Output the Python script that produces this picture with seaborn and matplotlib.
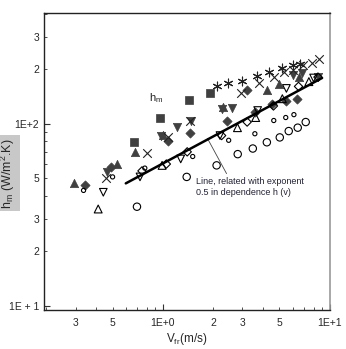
import numpy as np
import pandas as pd
import matplotlib
matplotlib.use("Agg")
import matplotlib.pyplot as plt
import seaborn as sns
from matplotlib.ticker import LogLocator, FuncFormatter

# data (v in m/s, h in W/m2K)
sq_v = [0.67, 0.96, 1.43, 1.91]
sq_h = [79, 108, 134, 148]

star_v = [2.10, 2.45, 2.97, 3.66, 4.31, 5.2, 6.0, 6.6]
star_h = [160, 168, 172, 183, 192, 202, 210, 212]

x_v = [0.456, 0.80, 1.07, 1.45, 2.93, 3.76, 4.62, 5.3, 6.0, 6.9, 7.8, 8.6]
x_h = [50, 69, 84, 103, 148, 168, 181, 191, 198, 210, 216, 225]

tri_v = [0.293, 0.53, 0.68, 1.0, 2.3, 4.2, 5.0, 6.5]
tri_h = [47, 60, 70, 87, 124, 152, 165, 180]

dia_v = [0.34, 0.49, 1.07, 1.45, 2.42, 3.2, 3.56, 4.5, 5.5, 6.4]
dia_h = [46, 58, 80, 89, 104, 152, 116, 128, 133, 137]

tdn_v = [0.46, 0.98, 1.21, 1.47, 2.25, 2.6, 6.0, 6.8, 8.5]
tdn_h = [54, 86, 96, 104, 120, 122, 185, 190, 180]

otd_v = [0.44, 0.73, 1.28, 2.2, 3.7, 5.5, 8.0]
otd_h = [42, 51, 64, 86, 118, 156, 178]

otu_v = [0.41, 0.99, 2.8, 3.6, 5.2, 7.5]
otu_h = [34, 59, 95, 108, 137, 170]

odia_v = [0.75, 1.05, 1.4, 2.25, 3.2, 4.6, 6.5, 8.5]
odia_h = [55, 60, 70, 86, 102, 125, 160, 180]

sc_v = [0.335, 0.50, 0.78, 1.51, 2.48, 3.56, 4.62, 5.45, 6.1]
sc_h = [43, 51, 57, 66, 81, 88, 104, 108, 112]

lc_v = [0.70, 1.39, 2.10, 2.81, 3.46, 4.20, 5.02, 5.68, 6.43, 7.18]
lc_h = [35, 51, 59, 68, 73, 79, 84, 91, 95, 102]

line_v = [0.6, 9.0]
line_h = [47, 178]

sns.set_style("ticks")
plt.rcParams['font.family'] = ['Liberation Sans', 'DejaVu Sans']
plt.rcParams['mathtext.fontset'] = 'custom'
plt.rcParams['mathtext.rm'] = 'Liberation Sans'
plt.rcParams['mathtext.it'] = 'Liberation Sans'

fig = plt.figure(figsize=(3.46, 3.49), dpi=100)
ax = fig.add_axes([0.127, 0.112, 0.826, 0.851])

dark = '#404040'
filled = [
    (sq_v, sq_h, 's', 40),
    (tri_v, tri_h, '^', 36),
    (dia_v, dia_h, 'D', 22),
    (tdn_v, tdn_h, 'v', 36),
]
for v, h, m, s in filled:
    sns.scatterplot(x=v, y=h, marker=m, s=s, color=dark, edgecolor=dark,
                    linewidth=0.5, ax=ax, zorder=3)

for v, h, m, s in [(star_v, star_h, (6, 2, 0), 40), (x_v, x_h, 'x', 38)]:
    sns.scatterplot(x=v, y=h, marker=m, s=s, color='#222222', linewidth=0.8,
                    ax=ax, zorder=3)

hollow = [
    (otd_v, otd_h, 'v', 30),
    (otu_v, otu_h, '^', 32),
    (odia_v, odia_h, 'D', 18),
    (sc_v, sc_h, 'o', 9),
    (lc_v, lc_h, 'o', 28),
]
for v, h, m, s in hollow:
    sns.scatterplot(x=v, y=h, marker=m, s=s, facecolor='none', edgecolor='black',
                    linewidth=0.8, ax=ax, zorder=3)

sns.lineplot(x=line_v, y=line_h, color='black', linewidth=1.8, ax=ax, zorder=4)

ax.set_xscale('log')
ax.set_yscale('log')
ax.set_xlim(0.194, 10.0)
ax.set_ylim(9.5, 405)


def make_fmt(lo, ten_label):
    def f(val, pos):
        if val < lo:
            return ''
        e = int(np.floor(np.log10(val) + 1e-9))
        d = int(round(val / 10 ** e))
        if d == 1:
            return ten_label if e == 1 else '1E+%d' % e
        if d in (2, 3, 5):
            return str(d)
        return ''
    return f


for axis, f in [(ax.xaxis, make_fmt(0.25, '1E+1')), (ax.yaxis, make_fmt(0, '1E + 1'))]:
    axis.set_major_locator(LogLocator(base=10))
    axis.set_minor_locator(LogLocator(base=10, subs=np.arange(2, 10)))
    axis.set_major_formatter(FuncFormatter(f))
    axis.set_minor_formatter(FuncFormatter(f))

ax.tick_params(which='both', direction='in', labelsize=7.5, color='#333333')
ax.tick_params(which='major', length=4)
ax.tick_params(which='minor', length=2.5)
ax.tick_params(axis='x', which='both', pad=6)

for side in ['left', 'bottom', 'top']:
    ax.spines[side].set_color('#222222')
    ax.spines[side].set_linewidth(1.0)
ax.spines['right'].set_color('#9a9a9a')
ax.spines['right'].set_linewidth(1.2)

ax.set_xlabel(r'V$_{\mathregular{fr}}$(m/s)', fontsize=8.5, labelpad=2)
ax.set_ylabel(r'h$_{\mathregular{m}}$ (W/m$^{\mathregular{2}}$.K)', fontsize=9,
              bbox=dict(facecolor='#c8c8c8', edgecolor='none', pad=2))
ax.yaxis.set_label_coords(-0.095, 0.46)

ax.text(0.83, 132, r'h$_{\mathregular{m}}$', fontsize=8, color='#222222')
ax.annotate('Line, related with exponent\n0.5 in dependence h (v)',
            xy=(1.85, 83), xytext=(1.58, 51), fontsize=6.5, color='#222233',
            va='top', ha='left', linespacing=1.3,
            arrowprops=dict(arrowstyle='-', color='#444444', lw=0.6,
                            shrinkA=0, shrinkB=0, relpos=(0.3, 1.0)))

fig.savefig('out.png', dpi=100)
